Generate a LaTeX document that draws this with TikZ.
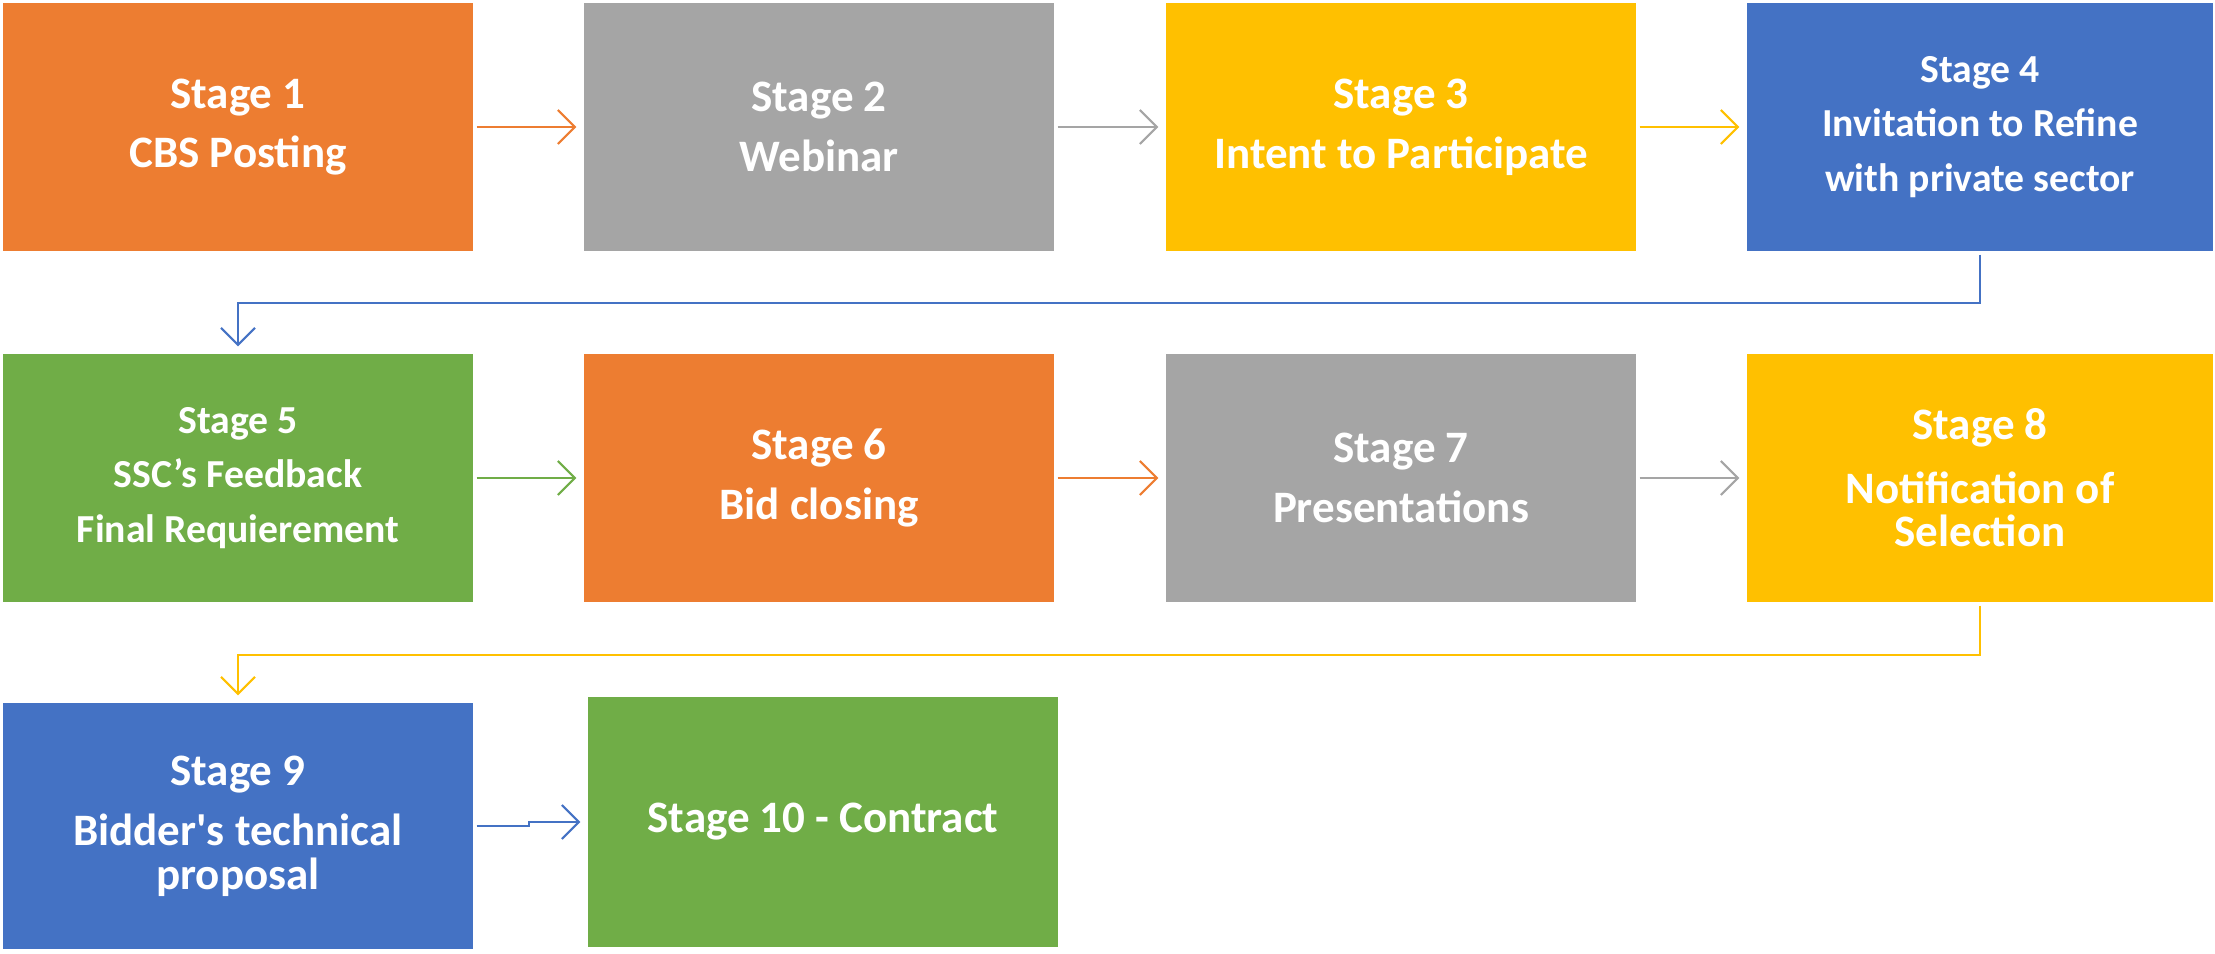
\documentclass[tikz,border=0pt]{standalone}
\usepackage{fontspec}
\setmainfont{Carlito}
\usepackage{tikz}
\usetikzlibrary{arrows.meta,calc}
\definecolor{stageorange}{HTML}{ED7D31}
\definecolor{stagegray}{HTML}{A5A5A5}
\definecolor{stagegold}{HTML}{FFC000}
\definecolor{stageblue}{HTML}{4472C4}
\definecolor{stagegreen}{HTML}{70AD47}

\begin{document}
\begin{tikzpicture}[
    stage/.style={rectangle, inner sep=0pt, minimum width=4.70cm, minimum height=2.48cm,
        text=white, align=center, font=\fontsize{12.8}{17}\selectfont\bfseries},
    smalltext/.style={font=\fontsize{11.3}{15.6}\selectfont\bfseries},
    flow/.style={-{Straight Barb[length=0.17cm,width=0.34cm]}, line width=0.6pt,
        shorten <=0.03cm, shorten >=0.07cm}
]
    \def\colA{2.38}  % x of first column
    \def\colB{8.19}
    \def\colC{14.01}
    \def\colD{19.80}
    \def\rowA{-1.27} % y of first row
    \def\rowB{-4.78}

    \useasboundingbox (0,0) rectangle (22.15,-9.54);

    % First row
    \node[stage, fill=stageorange] (s1) at (\colA,\rowA) {Stage 1\\CBS Posting};
    \node[stage, fill=stagegray] (s2) at (\colB,\rowA) {Stage 2\\Webinar};
    \node[stage, fill=stagegold] (s3) at (\colC,\rowA) {Stage 3\\Intent to Participate};
    \node[stage, smalltext, fill=stageblue, minimum width=4.66cm] (s4) at (\colD,\rowA) {Stage 4\\Invitation to Refine\\with private sector};

    % Second row
    \node[stage, smalltext, fill=stagegreen] (s5) at (\colA,\rowB) {Stage 5\\SSC’s Feedback\\Final Requierement};
    \node[stage, fill=stageorange] (s6) at (\colB,\rowB) {Stage 6\\Bid closing};
    \node[stage, fill=stagegray] (s7) at (\colC,\rowB) {Stage 7\\Presentations};
    \node[stage, fill=stagegold, minimum width=4.66cm] (s8) at (\colD,\rowB) {Stage 8\\[1.2pt]Notification of\\[-4.8pt]Selection};

    % Third row
    \node[stage, fill=stageblue, minimum height=2.46cm] (s9) at (\colA,-8.26) {Stage 9\\Bidder\textquotesingle s technical\\[-4.5pt]proposal};
    \node[stage, fill=stagegreen, minimum height=2.50cm] (s10) at (8.23,-8.22) {Stage 10 - Contract};

    % Arrows
    \draw[flow, stageorange] (s1) -- (s2);
    \draw[flow, stagegray] (s2) -- (s3);
    \draw[flow, stagegold] (s3) -- (s4);
    \draw[flow, stageblue] (s4.south) -- ++(0,-0.51) -| (s5.north);
    \draw[flow, stagegreen] (s5) -- (s6);
    \draw[flow, stageorange] (s6) -- (s7);
    \draw[flow, stagegray] (s7) -- (s8);
    \draw[flow, stagegold] (s8.south) -- ++(0,-0.52) -| (s9.north);
    \draw[flow, stageblue] (s9.east) -- ++(0.55,0) |- (s10.west);

\end{tikzpicture}
\end{document}
